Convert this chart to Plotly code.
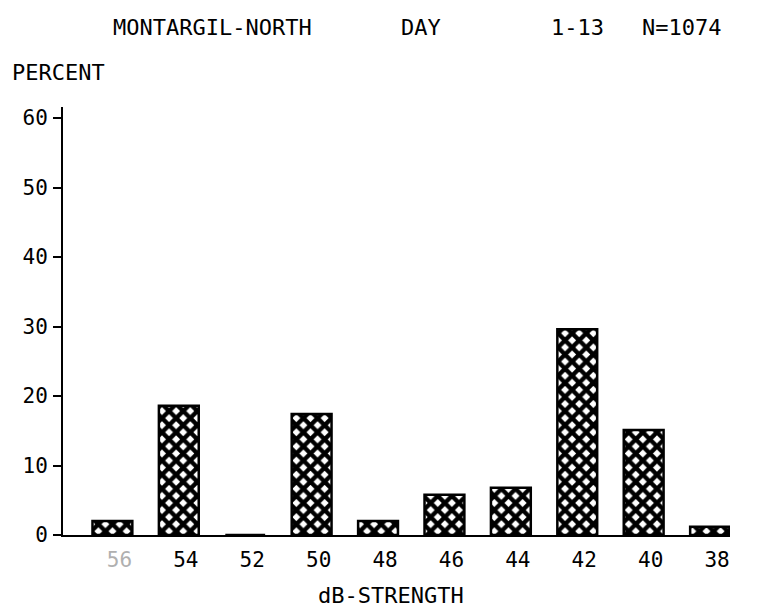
import plotly.graph_objects as go

# dB signal-strength classes (descending) and share of observations in percent
strength_labels = ["56", "54", "52", "50", "48", "46", "44", "42", "40", "38"]
percent_values = [2.0, 18.6, 0.0, 17.4, 2.0, 5.8, 6.8, 29.6, 15.1, 1.2]
y_tick_values = [0, 10, 20, 30, 40, 50, 60]

W, H = 773, 616
ML, MR, MT, MB = 63, 43, 107, 81
PW, PH = W - ML - MR, H - MT - MB
FONT = "DejaVu Sans Mono"


def px(x):
    return (x - ML) / PW


def py(y):
    return (H - MB - y) / PH


tick_text = ["<span style='color:#b0b0b0'>56</span>"] + strength_labels[1:]

fig = go.Figure(
    go.Bar(
        x=strength_labels,
        y=percent_values,
        width=0.6,
        marker=dict(
            color="white",
            line=dict(color="black", width=2.5),
            pattern=dict(shape="x", fgcolor="black", fgopacity=1,
                         bgcolor="white", size=10, solidity=0.68),
        ),
        hoverinfo="x+y",
    )
)

fig.update_xaxes(
    type="category",
    range=[-0.744, 9.3],
    tickvals=strength_labels,
    ticktext=tick_text,
    showline=True, linecolor="black", linewidth=2,
    ticks="", showgrid=False, zeroline=False,
    tickfont=dict(family=FONT, size=21, color="black"),
    ticklabelshift=7,
    ticklabelstandoff=5,
)
fig.update_yaxes(
    range=[0, 61.6],
    tickvals=y_tick_values,
    showline=True, linecolor="black", linewidth=2,
    ticks="outside", ticklen=8, tickwidth=2, tickcolor="black",
    showgrid=False, zeroline=False,
    tickfont=dict(family=FONT, size=21, color="black"),
    ticklabelstandoff=1,
)

annotations = [
    ("MONTARGIL-NORTH", 212, 28, "center"),
    ("DAY", 421, 28, "center"),
    ("1-13", 577, 28, "center"),
    ("N=1074", 681, 28, "center"),
    ("PERCENT", 10, 72, "left"),
    ("dB-STRENGTH", 391, 595, "center"),
]
for text, x, y, anchor in annotations:
    fig.add_annotation(
        text=text, xref="paper", yref="paper", x=px(x), y=py(y),
        xanchor=anchor, yanchor="middle", showarrow=False,
        font=dict(family=FONT, size=22, color="black"),
    )

fig.update_layout(
    width=W, height=H,
    margin=dict(l=ML, r=MR, t=MT, b=MB),
    paper_bgcolor="white", plot_bgcolor="white",
    showlegend=False,
)

fig.write_html("out.html")
